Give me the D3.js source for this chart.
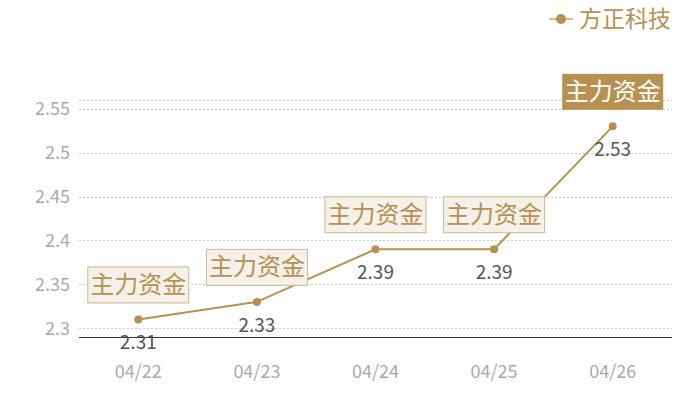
<!DOCTYPE html>
<html>
<head>
<meta charset="utf-8">
<script src="https://cdn.jsdelivr.net/npm/d3@7"></script>
<style>
  body { margin: 0; background: #fff; }
  svg { font-family: "Noto Sans CJK SC", "Noto Sans", sans-serif; }
</style>
</head>
<body>
<svg id="chart" width="700" height="400"></svg>
<script>
const dates = ["04/22", "04/23", "04/24", "04/25", "04/26"];
const prices = [2.31, 2.33, 2.39, 2.39, 2.53];
const yTicks = [2.3, 2.35, 2.4, 2.45, 2.5, 2.55];
const seriesName = "方正科技";
const markLabel = "主力资金";

const gold = "#b8904f";
const svg = d3.select("#chart");
const margin = {top: 100, right: 28, bottom: 63, left: 79};
const width = 700, height = 400;

const x = d3.scaleBand()
    .domain(dates)
    .range([margin.left, width - margin.right]);
const y = d3.scaleLinear()
    .domain([2.29, 2.56])
    .range([height - margin.bottom, margin.top]);
const cx = d => x(d) + x.bandwidth() / 2;

// grid lines
svg.append("g")
    .selectAll("line")
    .data(yTicks.concat([y.domain()[1]]))
    .join("line")
    .attr("x1", x.range()[0])
    .attr("x2", x.range()[1])
    .attr("y1", d => Math.round(y(d)) + 0.5)
    .attr("y2", d => Math.round(y(d)) + 0.5)
    .attr("stroke", "#ccc")
    .attr("stroke-dasharray", "2,2");

// y tick labels
svg.append("g")
    .selectAll("text")
    .data(yTicks)
    .join("text")
    .attr("x", 70)
    .attr("y", d => y(d))
    .attr("dy", "0.35em")
    .attr("text-anchor", "end")
    .attr("fill", "#aaa")
    .attr("font-size", 18)
    .text(d => d);

// x axis
svg.append("line")
    .attr("x1", x.range()[0])
    .attr("x2", x.range()[1])
    .attr("y1", y.range()[0] + 0.5)
    .attr("y2", y.range()[0] + 0.5)
    .attr("stroke", "#333");

svg.append("g")
    .selectAll("text")
    .data(dates)
    .join("text")
    .attr("x", d => cx(d))
    .attr("y", 372)
    .attr("dy", "0.35em")
    .attr("text-anchor", "middle")
    .attr("fill", "#aaa")
    .attr("font-size", 18)
    .text(d => d);

// the line
const I = d3.range(dates.length);
const line = d3.line()
    .x(i => cx(dates[i]))
    .y(i => y(prices[i]));

svg.append("path")
    .attr("fill", "none")
    .attr("stroke", gold)
    .attr("stroke-width", 2)
    .attr("d", line(I));

svg.append("g")
    .selectAll("circle")
    .data(I)
    .join("circle")
    .attr("cx", i => cx(dates[i]))
    .attr("cy", i => y(prices[i]))
    .attr("r", 4)
    .attr("fill", gold);

// value labels
svg.append("g")
    .selectAll("text")
    .data(I)
    .join("text")
    .attr("x", i => cx(dates[i]))
    .attr("y", i => y(prices[i]) + 23)
    .attr("dy", "0.35em")
    .attr("text-anchor", "middle")
    .attr("fill", "#555")
    .attr("font-size", 19)
    .text(i => prices[i]);

// mark boxes, drawn over the line
const last = dates.length - 1;
const marks = svg.append("g")
    .selectAll("g")
    .data(I)
    .join("g")
    .attr("transform", i => `translate(${cx(dates[i])},${y(prices[i]) - 17})`);

marks.append("rect")
    .attr("x", -50.5)
    .attr("y", -35.5)
    .attr("width", 101)
    .attr("height", 36)
    .attr("fill", i => i === last ? gold : "#f4f0ea")
    .attr("stroke", i => i === last ? "none" : "#d2b485");

marks.append("text")
    .attr("x", 0)
    .attr("y", -18)
    .attr("dy", "0.35em")
    .attr("text-anchor", "middle")
    .attr("font-size", 24)
    .attr("fill", i => i === last ? "#fff" : gold)
    .text(markLabel);

// legend
const legend = svg.append("g").attr("transform", "translate(549,19)");
legend.append("line")
    .attr("x1", 0).attr("x2", 24)
    .attr("stroke", gold)
    .attr("stroke-opacity", 0.6)
    .attr("stroke-width", 2);
legend.append("circle")
    .attr("cx", 12)
    .attr("r", 5)
    .attr("fill", gold);
legend.append("text")
    .attr("x", 30)
    .attr("dy", "0.35em")
    .attr("font-size", 23)
    .attr("fill", gold)
    .text(seriesName);
</script>
</body>
</html>
